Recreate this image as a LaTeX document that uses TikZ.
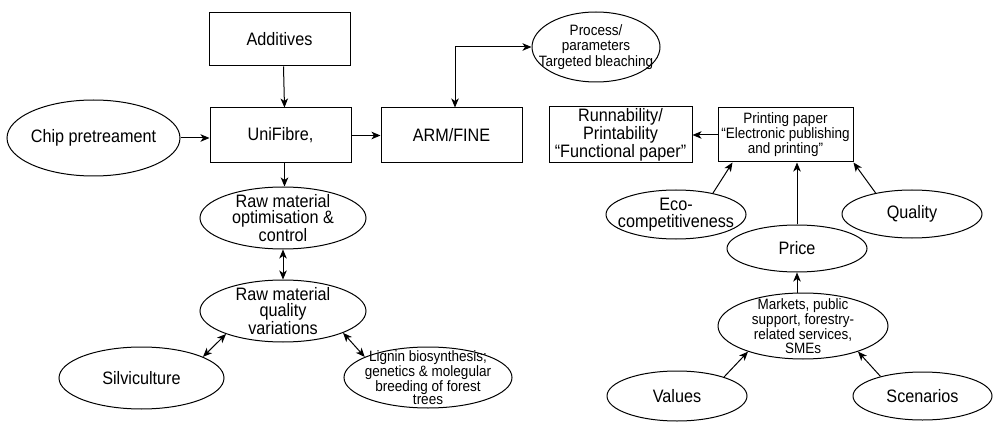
\documentclass[tikz,border=0pt]{standalone}
\usepackage{fontspec}
\setmainfont{Liberation Sans}[FakeStretch=0.9]
\usetikzlibrary{calc,arrows.meta,shapes.geometric}

\begin{document}
\begin{tikzpicture}[x=1pt,y=-1pt,line width=1pt,>={Stealth[length=9pt,width=7.5pt,inset=2.5pt]},
  box/.style={draw,rectangle,inner sep=0pt,align=center,font=\fontsize{18}{16.5}\selectfont},
  oval/.style={draw,ellipse,inner xsep=-16pt,inner ysep=-6pt,align=center,font=\fontsize{18}{16.5}\selectfont},
  small/.style={font=\fontsize{15}{13.5}\selectfont}]
\useasboundingbox (0,0) rectangle (993,422);
\node[box,minimum width=141,minimum height=53] (add) at (279.5,39.5) {Additives};
\node[box,minimum width=141,minimum height=55] (uni) at (280.5,135.5) {UniFibre,};
\node[oval,minimum width=173,minimum height=76] (chip) at (93.5,138) {Chip pretreament};
\node[box,minimum width=141,minimum height=55] (arm) at (451.5,135.5) {ARM/FINE};
\node[oval,minimum width=128,minimum height=70,font=\fontsize{15}{15.5}\selectfont] (proc) at (596,47) {Process/\\parameters\\Targeted bleaching};
\node[box,minimum width=143,minimum height=56] (run) at (620.5,135) {Runnability/\\Printability\\``Functional paper''};
\node[box,small,minimum width=135,minimum height=54] (print) at (785.5,135) {Printing paper\\``Electronic publishing\\and printing''};
\node[oval,minimum width=166,minimum height=62] (opt) at (283,218) {Raw material\\optimisation \&\\control};
\node[oval,minimum width=166,minimum height=62] (qual) at (283,311) {Raw material\\quality\\variations};
\node[oval,minimum width=165,minimum height=62] (silv) at (141.5,378) {Silviculture};
\node[oval,small,minimum width=168,minimum height=61] (lign) at (428,377.5) {Lignin biosynthesis;\\genetics \& molegular\\breeding of forest\\trees};
\node[oval,minimum width=140,minimum height=49] (eco) at (676,214.5) {Eco-\\competitiveness};
\node[oval,minimum width=140,minimum height=47] (price) at (797,248.5) {Price};
\node[oval,minimum width=140,minimum height=48] (quality) at (912,214) {Quality};
\node[oval,small,minimum width=170,minimum height=66] (mark) at (803,326) {Markets, public\\support, forestry-\\related services,\\SMEs};
\node[oval,minimum width=140,minimum height=50] (val) at (677,396) {Values};
\node[oval,minimum width=139,minimum height=48] (scen) at (922.5,396) {Scenarios};
\draw[->] ([xshift=4pt]add.south) -- ([xshift=4pt]uni.north);
\draw[->] (chip.east) -- (chip.east -| uni.west);
\draw[->] (uni.east) -- (arm.west);
\draw[<->] ([xshift=3.5pt]arm.north) |- (proc);
\draw[->] (print.west) -- (run.east);
\draw[->] ([xshift=4pt]uni.south) -- ([xshift=4pt]uni.south |- opt.north);
\draw[<->] (opt.south) -- (qual.north);
\draw[<->] (qual.202) -- (silv.19);
\draw[<->] (qual.-20) -- (lign.162);
\draw[->] (eco.30) -- ([xshift=15pt]print.south west);
\draw[->] (price.north) -- (price.north |- print.south);
\draw[->] (quality.150) -- (print.south east);
\draw[->] (mark.north -| price) -- (price.south);
\draw[->] (val.22) -- (mark.205);
\draw[->] (scen.155) -- (mark.-25);
\end{tikzpicture}
\end{document}
